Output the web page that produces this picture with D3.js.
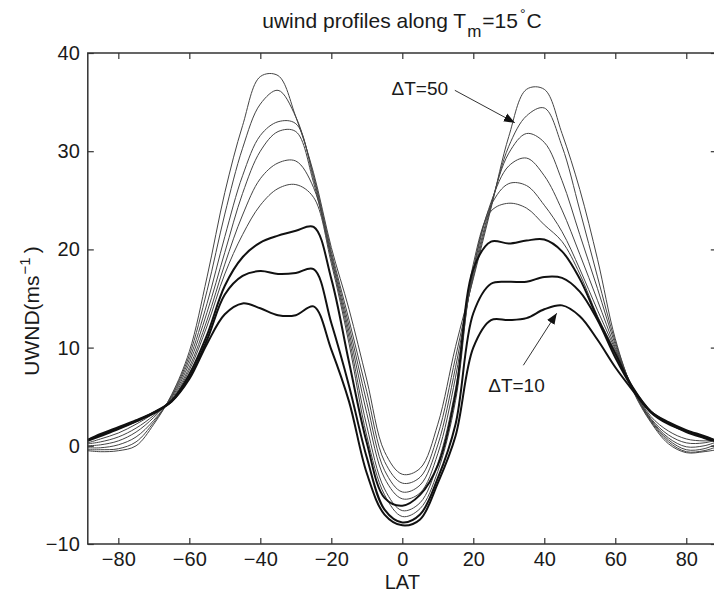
<!DOCTYPE html>
<html>
<head>
<meta charset="utf-8">
<script src="https://cdn.jsdelivr.net/npm/d3@7"></script>
<style>
body { margin: 0; background: #fff; }
svg { display: block; font-family: "Liberation Sans", Arial, Helvetica, sans-serif; }
</style>
</head>
<body>
<div id="chart"></div>
<script>
// latitude grid (deg) shared by every profile
const lats = [-88.6, -85, -80, -75, -70, -65, -60, -55, -50, -45, -40, -35, -30, -25, -20, -15, -10, -5, 0,
              5, 10, 15, 20, 25, 30, 35, 40, 45, 50, 55, 60, 65, 70, 75, 80, 85, 88.6];

// zonal wind (m/s) for each DeltaT
const dt10 = [0.6, 1.1, 1.8, 2.5, 3.3, 4.5, 6.8, 10.4, 13.4, 14.5, 14.0, 13.3, 13.3, 14.2, 9.8, 4.5, -2.8, -7.0, -8.1,
              -7.5, -3.8, 1.0, 10.0, 12.8, 12.8, 13.0, 13.9, 14.3, 13.2, 10.8, 8.0, 5.6, 3.4, 2.2, 1.5, 0.9, 0.5];
const dt15 = [0.6, 1.2, 1.9, 2.6, 3.4, 4.5, 7.0, 10.8, 15.4, 17.3, 17.8, 17.5, 17.6, 18.0, 12.5, 6.1, -1.2, -6.5, -7.8,
              -7.0, -3.3, 2.2, 13.5, 16.5, 16.7, 16.7, 17.2, 17.1, 15.7, 12.8, 9.0, 5.8, 3.5, 2.4, 1.6, 1.0, 0.5];
const dt20 = [0.5, 1.0, 1.7, 2.5, 3.4, 4.6, 7.3, 11.3, 16.3, 19.2, 20.7, 21.4, 21.9, 22.3, 17.0, 8.5, 0.3, -5.3, -6.1,
              -5.0, -2.0, 5.3, 18.0, 20.8, 20.6, 20.9, 21.0, 19.8, 17.0, 13.0, 9.4, 5.9, 3.5, 2.3, 1.4, 0.8, 0.4];
const dt25 = [0.3, 0.7, 1.3, 2.2, 3.3, 4.7, 7.7, 12.2, 17.5, 21.5, 24.5, 26.2, 26.6, 25.3, 18.6, 10.4, 1.0, -5.0, -7.2,
              -6.4, -2.6, 4.6, 18.5, 23.9, 24.7, 24.2, 22.5, 20.8, 17.5, 13.2, 9.6, 5.9, 3.0, 1.5, 0.7, 0.5, 0.6];
const dt30 = [0.2, 0.4, 0.9, 1.8, 3.1, 4.8, 8.0, 12.8, 18.5, 23.5, 27.2, 28.8, 29.0, 26.3, 19.0, 11.0, 2.0, -4.4, -6.6,
              -5.8, -1.8, 5.8, 18.0, 24.5, 26.7, 26.5, 24.5, 21.8, 18.0, 13.8, 9.8, 5.8, 2.8, 1.1, 0.3, 0.3, 0.6];
const dt35 = [0.0, 0.1, 0.5, 1.4, 2.9, 4.9, 8.4, 13.6, 19.7, 25.7, 30.0, 32.0, 32.0, 26.8, 19.2, 11.6, 3.3, -3.3, -5.4,
              -4.8, -0.8, 7.0, 17.8, 24.8, 28.5, 29.3, 27.5, 24.0, 19.5, 14.8, 10.0, 5.8, 2.7, 0.8, -0.1, 0.0, 0.4];
const dt40 = [-0.2, -0.2, 0.1, 0.9, 2.6, 5.0, 8.8, 14.5, 21.3, 27.5, 31.6, 33.0, 32.8, 27.2, 19.5, 12.2, 4.4, -2.5, -4.7,
              -4.0, 0.1, 8.0, 17.5, 24.6, 29.8, 31.8, 30.9, 27.0, 21.5, 16.0, 10.3, 5.7, 2.6, 0.6, -0.4, -0.3, 0.2];
const dt45 = [-0.4, -0.4, -0.3, 0.4, 2.4, 5.1, 9.2, 15.8, 23.6, 30.3, 34.8, 36.2, 33.5, 27.5, 19.8, 12.8, 5.5, -1.6, -3.8,
              -3.2, 1.1, 9.0, 17.2, 24.4, 30.5, 33.6, 34.4, 30.5, 24.0, 17.2, 10.6, 5.7, 2.5, 0.4, -0.6, -0.5, -0.1];
const dt50 = [-0.5, -0.6, -0.5, 0.0, 2.2, 5.2, 9.6, 17.2, 25.8, 32.6, 37.6, 37.7, 33.5, 27.8, 20.2, 13.9, 6.7, -0.6, -2.9,
              -2.3, 2.2, 10.1, 17.0, 24.2, 31.5, 36.3, 36.3, 31.8, 26.1, 19.0, 10.9, 5.6, 2.4, 0.2, -0.7, -0.6, -0.4];

const deltaT = [10, 15, 20, 25, 30, 35, 40, 45, 50];
const thickDT = [10, 15, 20];
const xTicks = [-80, -60, -40, -20, 0, 20, 40, 60, 80];
const yTicks = [-10, 0, 10, 20, 30, 40];

const w = 714, h = 594;
const plotLeft = 87.8, plotRight = 716.8, plotTop = 53, plotBottom = 544;

const series = [dt10, dt15, dt20, dt25, dt30, dt35, dt40, dt45, dt50].map((vals, i) => ({
  dt: deltaT[i],
  points: lats.map((lat, j) => [lat, vals[j]])
}));

const svg = d3.select("#chart").append("svg")
  .attr("width", w)
  .attr("height", h);

const x = d3.scaleLinear().domain([-88.6, 88.6]).range([plotLeft, plotRight]);
const y = d3.scaleLinear().domain([-10, 40]).range([plotBottom, plotTop]);

svg.append("defs").append("marker")
  .attr("id", "head")
  .attr("viewBox", "0 0 10 10")
  .attr("refX", 10).attr("refY", 5)
  .attr("markerWidth", 11).attr("markerHeight", 11)
  .attr("markerUnits", "userSpaceOnUse")
  .attr("orient", "auto")
  .append("path")
  .attr("d", "M0,1 L10,5 L0,9 Z")
  .attr("fill", "#111");

// curves: thin ones first, the three thick ones on top
const line = d3.line()
  .x(d => x(d[0]))
  .y(d => y(d[1]))
  .curve(d3.curveCatmullRom.alpha(0.5));

const ordered = series.slice().sort((a, b) => thickDT.includes(a.dt) - thickDT.includes(b.dt));

svg.append("g").selectAll("path")
  .data(ordered)
  .enter()
  .append("path")
  .attr("d", d => line(d.points))
  .attr("fill", "none")
  .attr("stroke", d => thickDT.includes(d.dt) ? "#111" : "#444")
  .attr("stroke-width", d => thickDT.includes(d.dt) ? 2 : 1)
  .attr("stroke-linejoin", "round");

// axes (MATLAB style box, ticks pointing inward)
const axisColor = "#333";
const styleAxis = g => {
  g.select(".domain").remove();
  g.selectAll(".tick line").attr("stroke", axisColor).attr("stroke-width", 1.2);
  g.selectAll(".tick text").attr("fill", "#1a1a1a").style("font-size", "20px");
};

svg.append("g")
  .attr("transform", "translate(0," + plotBottom + ")")
  .call(d3.axisBottom(x).tickValues(xTicks).tickSize(-6).tickPadding(8))
  .call(styleAxis);

svg.append("g")
  .attr("transform", "translate(0," + plotTop + ")")
  .call(d3.axisTop(x).tickValues(xTicks).tickSize(-6).tickFormat(""))
  .call(styleAxis);

svg.append("g")
  .attr("transform", "translate(" + plotLeft + ",0)")
  .call(d3.axisLeft(y).tickValues(yTicks).tickSize(-6).tickPadding(8))
  .call(styleAxis);

svg.append("g")
  .attr("transform", "translate(" + plotRight + ",0)")
  .call(d3.axisRight(y).tickValues(yTicks).tickSize(-6).tickFormat(""))
  .call(styleAxis);

svg.append("rect")
  .attr("x", plotLeft).attr("y", plotTop)
  .attr("width", plotRight - plotLeft).attr("height", plotBottom - plotTop)
  .attr("fill", "none")
  .attr("stroke", axisColor)
  .attr("stroke-width", 1.5);

// title with subscript m and degree sign
const title = svg.append("text")
  .attr("x", 402).attr("y", 28)
  .attr("text-anchor", "middle")
  .attr("fill", "#1a1a1a")
  .style("font-size", "21px");
title.append("tspan").text("uwind profiles along T");
title.append("tspan").attr("dx", 1).attr("dy", 9).style("font-size", "17px").text("m");
title.append("tspan").attr("dx", 1).attr("dy", -9).text("=15");
title.append("tspan").attr("dx", 2).attr("dy", -9).style("font-size", "14px").text("°");
title.append("tspan").attr("dx", 1).attr("dy", 9).text("C");

// axis labels
svg.append("text")
  .attr("x", x(0)).attr("y", 589)
  .attr("text-anchor", "middle")
  .attr("fill", "#1a1a1a")
  .style("font-size", "20px")
  .text("LAT");

const ylab = svg.append("text")
  .attr("transform", "translate(39,311) rotate(-90)")
  .attr("text-anchor", "middle")
  .attr("fill", "#1a1a1a")
  .style("font-size", "21px");
ylab.append("tspan").text("UWND(ms");
ylab.append("tspan").attr("dy", -9).attr("dx", 1).style("font-size", "15px").text("−1");
ylab.append("tspan").attr("dy", 9).attr("dx", 4).text(")");

// annotations
const notes = [
  { label: "ΔT=50", text: [12.9, 35.7], anchor: "end", tail: [14.8, 36.2], tip: [31.7, 32.9] },
  { label: "ΔT=10", text: [24.2, 5.5], anchor: "start", tail: [34.1, 8.2], tip: [43.5, 13.5] }
];

svg.append("g").selectAll("line")
  .data(notes)
  .enter()
  .append("line")
  .attr("x1", d => x(d.tail[0])).attr("y1", d => y(d.tail[1]))
  .attr("x2", d => x(d.tip[0])).attr("y2", d => y(d.tip[1]))
  .attr("stroke", "#333")
  .attr("stroke-width", 1)
  .attr("marker-end", "url(#head)");

svg.append("g").selectAll("text")
  .data(notes)
  .enter()
  .append("text")
  .attr("x", d => x(d.text[0])).attr("y", d => y(d.text[1]))
  .attr("text-anchor", d => d.anchor)
  .attr("fill", "#1a1a1a")
  .style("font-size", "19px")
  .text(d => d.label);
</script>
</body>
</html>
